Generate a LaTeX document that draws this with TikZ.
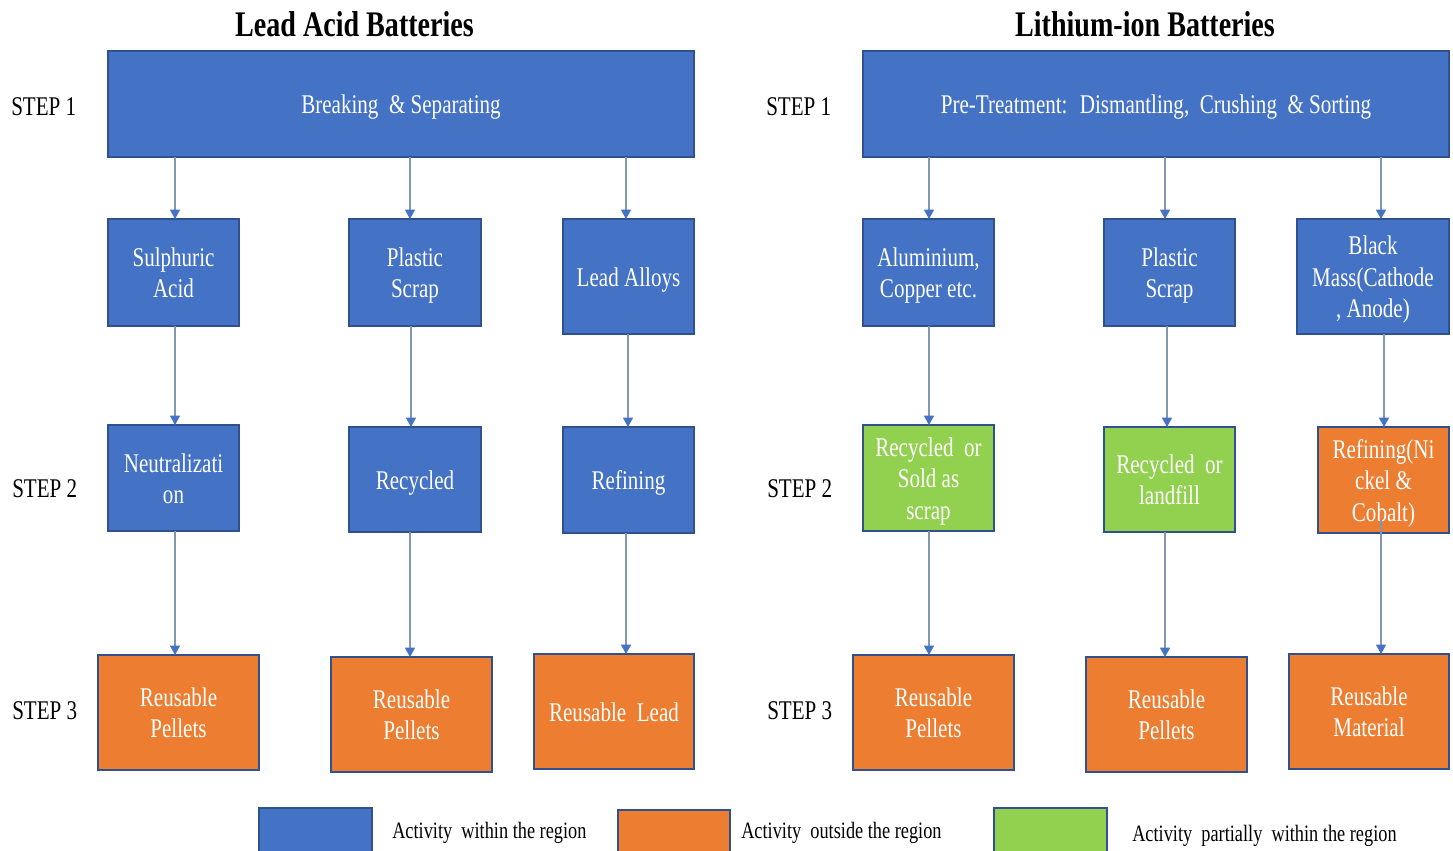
\documentclass[tikz,border=0pt]{standalone}
\usepackage{fontspec}
\setmainfont{Liberation Serif}[FakeStretch=0.78]
\usetikzlibrary{arrows.meta,calc}
\definecolor{boxblue}{HTML}{4472C4}
\definecolor{boxorange}{HTML}{ED7D31}
\definecolor{boxgreen}{HTML}{92D050}
\definecolor{boxedge}{HTML}{2F528F}
\definecolor{linkline}{HTML}{8497B0}
% fixed top and bottom line metrics so that box texts sit at the same height whatever their letters
\newcommand\topstrut{\rule{0pt}{21pt}}
\newcommand\botstrut{\rule[-6.4pt]{0pt}{6.4pt}}
% a box given by its corners (in px-like units), style and text
\newcommand\panel[7]{%
  \node[#6, minimum width={(#4-#2)*0.75pt}, minimum height={(#5-#3)*0.75pt}]
    (#1) at ({(#2+#4)/2},{(#3+#5)/2}) {\topstrut#7\botstrut};}
\begin{document}
\begin{tikzpicture}[x=0.75pt,y=-0.75pt,
  box/.style={draw=boxedge, line width=1.1pt, inner sep=0pt, outer sep=0pt,
    text=white, align=center, font=\fontsize{20.25pt}{23.5pt}\selectfont},
  bluebox/.style={box, fill=boxblue},
  orangebox/.style={box, fill=boxorange},
  greenbox/.style={box, fill=boxgreen},
  arr/.style={draw=linkline, line width=0.8pt,
    -{Triangle[width=7.5pt,length=7pt,color=boxblue]}},
  steplabel/.style={anchor=west, inner sep=0pt,
    font=\fontsize{20.25pt}{23.5pt}\selectfont},
  heading/.style={anchor=base, inner sep=0pt,
    font=\fontsize{27pt}{30pt}\selectfont\bfseries},
  legtext/.style={anchor=base west, inner sep=0pt,
    font=\fontsize{17.6pt}{21pt}\selectfont}]
\useasboundingbox (0,0) rectangle (1453,850);

% headings
\node[heading] (hl) at (354.5,36) {Lead Acid Batteries};
\node[heading] (hr) at (1145,36) {Lithium-ion Batteries};

% step labels
\node[steplabel] (l1) at (11,107) {STEP 1};
\node[steplabel] (l2) at (12,489) {STEP 2};
\node[steplabel] (l3) at (12,711) {STEP 3};
\node[steplabel] (r1) at (766,107) {STEP 1};
\node[steplabel] (r2) at (767,489) {STEP 2};
\node[steplabel] (r3) at (767,711) {STEP 3};

% lead acid column
\panel{la}{108}{51}{694}{157}{bluebox}{Breaking~ \& Separating}
\panel{la1}{108}{219}{239}{326}{bluebox}{Sulphuric\\Acid}
\panel{la2}{349}{219}{481}{326}{bluebox}{Plastic\\Scrap}
\panel{la3}{563}{219}{694}{334}{bluebox}{Lead Alloys}
\panel{lb1}{108}{425}{239}{531}{bluebox}{Neutralizati\\on}
\panel{lb2}{349}{427}{481}{532}{bluebox}{Recycled}
\panel{lb3}{563}{427}{694}{533}{bluebox}{Refining}
\panel{lc1}{98}{655}{259}{770}{orangebox}{Reusable\\Pellets}
\panel{lc2}{331}{657}{492}{772}{orangebox}{Reusable\\Pellets}
\panel{lc3}{534}{654}{694}{769}{orangebox}{Reusable~ Lead}

% lithium-ion column
\panel{li}{863}{51}{1449}{157}{bluebox}{Pre-Treatment:~ Dismantling,~ Crushing~ \& Sorting}
\panel{li1}{863}{219}{994}{326}{bluebox}{Aluminium,\\Copper etc.}
\panel{li2}{1104}{219}{1235}{326}{bluebox}{Plastic\\Scrap}
\panel{li3}{1297}{219}{1449}{334}{bluebox}{Black\\Mass(Cathode\\, Anode)}
\panel{lj1}{863}{425}{994}{531}{greenbox}{Recycled~ or\\Sold as\\scrap}
\panel{lj2}{1104}{427}{1235}{532}{greenbox}{Recycled~ or\\landfill}
\panel{lj3}{1318}{427}{1449}{533}{orangebox}{Refining(Ni\\ckel \&\\Cobalt)}
\panel{lk1}{853}{655}{1014}{770}{orangebox}{Reusable\\Pellets}
\panel{lk2}{1086}{657}{1247}{772}{orangebox}{Reusable\\Pellets}
\panel{lk3}{1289}{654}{1449}{769}{orangebox}{Reusable\\Material}

% connectors, lead acid
\draw[arr] (la.south -| 175,0) -- (la1.north -| 175,0);
\draw[arr] (la.south -| 410,0) -- (la2.north -| 410,0);
\draw[arr] (la.south -| 626,0) -- (la3.north -| 626,0);
\draw[arr] (la1.south -| 175,0) -- (lb1.north -| 175,0);
\draw[arr] (la2.south -| 411,0) -- (lb2.north -| 411,0);
\draw[arr] (la3.south -| 628,0) -- (lb3.north -| 628,0);
\draw[arr] (lb1.south -| 175,0) -- (lc1.north -| 175,0);
\draw[arr] (lb2.south -| 410,0) -- (lc2.north -| 410,0);
\draw[arr] (lb3.south -| 626,0) -- (lc3.north -| 626,0);

% connectors, lithium-ion
\draw[arr] (li.south -| 929,0) -- (li1.north -| 929,0);
\draw[arr] (li.south -| 1165,0) -- (li2.north -| 1165,0);
\draw[arr] (li.south -| 1381,0) -- (li3.north -| 1381,0);
\draw[arr] (li1.south -| 929,0) -- (lj1.north -| 929,0);
\draw[arr] (li2.south -| 1167,0) -- (lj2.north -| 1167,0);
\draw[arr] (li3.south -| 1384,0) -- (lj3.north -| 1384,0);
\draw[arr] (lj1.south -| 929,0) -- (lk1.north -| 929,0);
\draw[arr] (lj2.south -| 1165,0) -- (lk2.north -| 1165,0);
\draw[arr] ($(lj3.south -| 1381,0)+(0,-13)$) -- (lk3.north -| 1381,0);

% legend
\panel{kb}{259}{808}{372}{856}{bluebox}{}
\panel{ko}{618}{810}{730}{856}{orangebox}{}
\panel{kg}{994}{808}{1107}{856}{greenbox}{}
\node[legtext] (kbt) at (392,838) {Activity~ within the region};
\node[legtext] (kot) at (741,838) {Activity~ outside the region};
\node[legtext] (kgt) at (1132,841) {Activity~ partially~ within the region};
\end{tikzpicture}
\end{document}
